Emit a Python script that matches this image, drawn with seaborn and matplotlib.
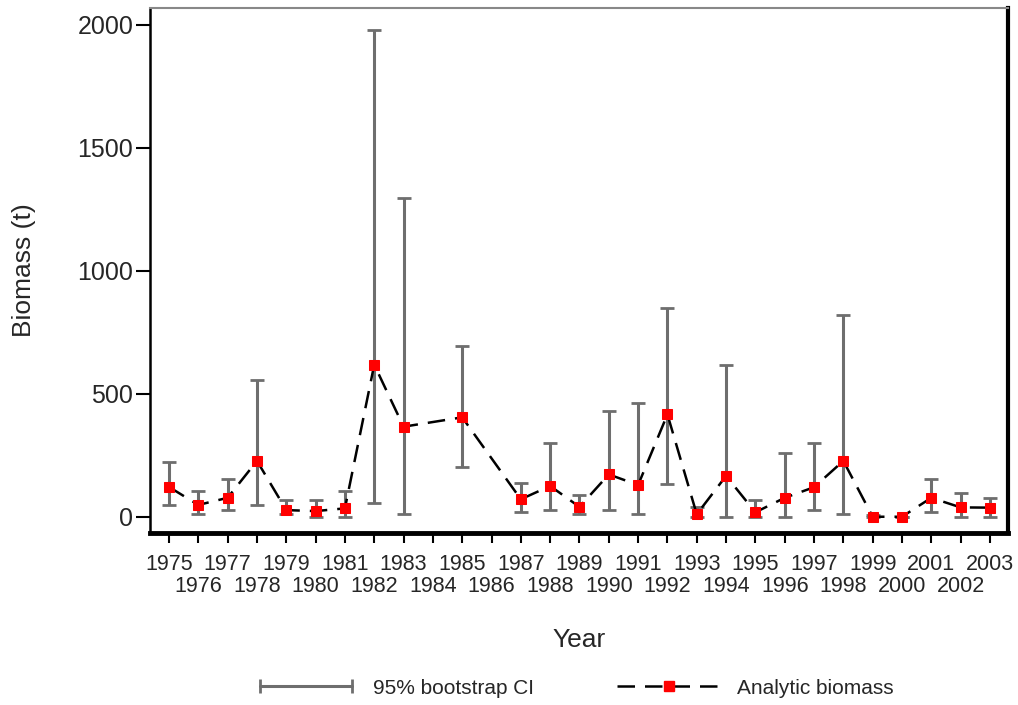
import numpy as np
import pandas as pd
import matplotlib
matplotlib.use("Agg")
import matplotlib.pyplot as plt
import seaborn as sns
from matplotlib.lines import Line2D
from matplotlib.legend_handler import HandlerLine2D

# biomass estimates (1984 and 1986 missing)
years = [1975, 1976, 1977, 1978, 1979, 1980, 1981, 1982, 1983, 1985,
         1987, 1988, 1989, 1990, 1991, 1992, 1993, 1994, 1995, 1996,
         1997, 1998, 1999, 2000, 2001, 2002, 2003]
biomass = [122, 49, 78, 228, 28, 24, 35, 619, 367, 405,
           72, 126, 41, 173, 130, 417, 11, 167, 19, 78,
           121, 228, 1, 1, 78, 39, 38]
ci_low = [49, 12, 30, 49, 11, 1, 1, 58, 11, 202,
          19, 28, 11, 28, 11, 136, 1, 1, 1, 1,
          30, 11, 0, 1, 19, 1, 1]
ci_high = [222, 106, 156, 557, 69, 69, 106, 1980, 1297, 695,
           137, 300, 88, 432, 462, 850, 42, 617, 69, 261,
           300, 821, 8, 1, 156, 97, 78]

df = pd.DataFrame({'Year': years, 'Biomass': biomass,
                   'low': ci_low, 'high': ci_high})

sns.set_style("white")
plt.rcParams['font.family'] = ['Liberation Sans', 'DejaVu Sans']

fig = plt.figure(figsize=(10.18, 7.05), dpi=100)
ax = fig.add_axes([0.1473, 0.244, 0.8427, 0.7447])

ci_color = '#6e6e6e'
dash = (0, (7, 4))
ax.errorbar(df['Year'], df['Biomass'],
            yerr=[df['Biomass'] - df['low'], df['high'] - df['Biomass']],
            fmt='none', ecolor=ci_color, elinewidth=2.2, capsize=4.7,
            capthick=2, zorder=2)

sns.lineplot(data=df, x='Year', y='Biomass', ax=ax, color='black',
             linewidth=1.8, linestyle=dash, marker='s',
             markersize=7, markerfacecolor='red', markeredgecolor='red',
             errorbar=None, zorder=3)

ax.set_xlim(1974.35, 2003.61)
ax.set_ylim(-65, 2069)

odd = [y for y in range(1975, 2004) if y % 2 == 1]
even = [y for y in range(1976, 2004) if y % 2 == 0]
ax.set_xticks(odd)
ax.set_xticks(even, minor=True)
ax.set_xticklabels([str(y) for y in odd])
ax.set_xticklabels([str(y) for y in even], minor=True)
ax.tick_params(axis='x', which='major', direction='out', length=7, width=1.5,
               labelsize=15.5, pad=8, bottom=True, color='black')
ax.tick_params(axis='x', which='minor', direction='out', length=7, width=1.5,
               labelsize=15.5, pad=24, bottom=True, color='black')

ax.set_yticks([0, 500, 1000, 1500, 2000])
ax.tick_params(axis='y', direction='out', length=10, width=1.5,
               labelsize=18, pad=2, left=True, color='black')

for side, lw, col in [('left', 1.8, 'black'), ('top', 1.5, '#888888'),
                      ('right', 3, 'black'), ('bottom', 3.5, 'black')]:
    ax.spines[side].set_visible(True)
    ax.spines[side].set_linewidth(lw)
    ax.spines[side].set_color(col)

ax.set_xlabel('Year', fontsize=19, labelpad=22)
ax.set_ylabel('Biomass (t)', fontsize=19, labelpad=30)

ci_handle = Line2D([], [], color=ci_color, linewidth=2.2, marker='|',
                   markersize=10, markeredgewidth=2)
bio_handle = Line2D([], [], color='black', linewidth=1.8,
                    linestyle=dash, marker='s', markersize=7,
                    markerfacecolor='red', markeredgecolor='red')
fig.legend([ci_handle, bio_handle], ['95% bootstrap CI', 'Analytic biomass'],
           loc='center', bbox_to_anchor=(0.5634, 0.024), ncol=2,
           frameon=False, fontsize=15, handlelength=5.0, handletextpad=0.72,
           columnspacing=4.0,
           handler_map={ci_handle: HandlerLine2D(numpoints=2)})

fig.savefig('out.png', dpi=100)
